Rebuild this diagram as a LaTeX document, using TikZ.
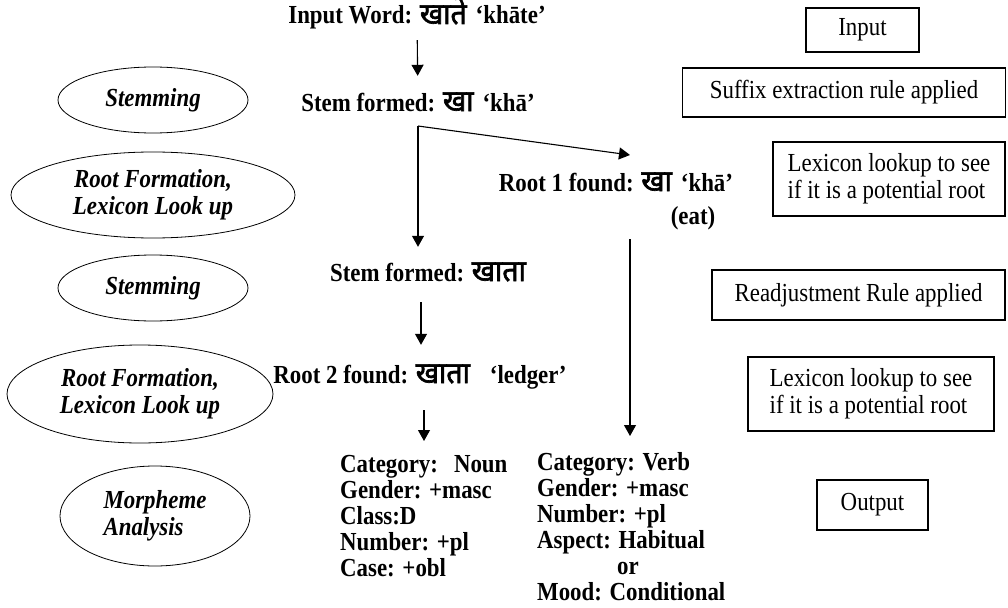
\documentclass[tikz,border=0pt]{standalone}
\usepackage{fontspec}
\setmainfont[FakeStretch=0.88]{Liberation Serif}
\newfontfamily\deva[Script=Devanagari, FakeBold=2.2, FakeStretch=0.95, Scale=1.15]{Noto Sans}
\usetikzlibrary{shapes.geometric}
\usetikzlibrary{arrows.meta}
\newcommand{\hin}[1]{{\deva #1}}

\begin{document}
\begin{tikzpicture} [
          x=1pt, y=-1pt,
          phase/.style = {ellipse, draw, line width=0.8pt, inner sep=0pt,
            font=\fontsize{26}{27}\selectfont\bfseries\itshape},
          note/.style = {draw, line width=1.5pt, inner sep=0pt,
            font=\fontsize{26}{27}\selectfont},
          word/.style = {inner sep=0pt, text height=17pt, text depth=5pt,
            font=\fontsize{26}{27}\selectfont\bfseries},
          feats/.style = {inner sep=0pt, anchor=north west, align=left,
            font=\fontsize{26}{26}\selectfont\bfseries},
          arr/.style = {-{Triangle[length=11pt,width=12pt]}, line width=1.1pt}
          ]
          \useasboundingbox (0,0) rectangle (1008,607);

          % phases on the left
          \node[phase, minimum width=190, minimum height=66] (stemI) at (153,100) {Stemming};
          \node[phase, minimum width=284, minimum height=86, align=center] (rootI) at (153,195) {Root Formation,\\Lexicon Look up};
          \node[phase, minimum width=190, minimum height=66] (stemII) at (153,288) {Stemming};
          \node[phase, minimum width=266, minimum height=98, align=center] (rootII) at (140,394) {Root Formation,\\Lexicon Look up};
          \node[phase, minimum width=190, minimum height=100, align=left] (morph) at (155,516) {Morpheme\\Analysis};

          % the word
          \node[word] (input) at (417,18) {Input Word: \hin{खाते}\hspace{9pt}‘khāte’};
          \node[word] (stemA) at (418,105) {Stem formed: \hin{खा}\hspace{9pt}‘khā’};
          \node[word] (rootA) at (616,185) {Root 1 found: \hin{खा}\hspace{9pt}‘khā’};
          \node[word] (eat) at (693,218) {(eat)};
          \node[word] (stemB) at (428,275) {Stem formed: \hin{खाता}};
          \node[word] (rootB) at (420,377) {Root 2 found: \hin{खाता}\hspace{20pt}‘ledger’};
          \node[feats] (noun) at (340,455) {Category:\hspace{16pt}Noun\\Gender: +masc\\Class:D\\Number: +pl\\Case: +obl};
          \node[feats] (verb) at (537,452) {Category: Verb\\Gender: +masc\\Number: +pl\\Aspect: Habitual\\\hspace*{80pt}or\\Mood: Conditional};

          % notes on the right
          \node[note, minimum width=113, minimum height=44] (inbox) at (862.5,30) {Input};
          \node[note, minimum width=323, minimum height=49] (suffix) at (844,92.5) {Suffix extraction rule applied};
          \node[note, minimum width=232, minimum height=74, align=left] (lookI) at (889,179) {Lexicon lookup to see\\if it is a potential root};
          \node[note, minimum width=293, minimum height=50] (readj) at (858.5,295) {Readjustment Rule applied};
          \node[note, minimum width=246, minimum height=74, align=left] (lookII) at (871,394) {Lexicon lookup to see\\if it is a potential root};
          \node[note, minimum width=111, minimum height=50] (outbox) at (872.5,505) {Output};

          \coordinate (fork) at (418,126);
          \coordinate (rtip) at (630,155);

          \draw[arr, shorten <=11pt, shorten >=18pt] (input) -- (stemA);
          \draw[arr] (fork) -- (rtip);
          \draw[arr, shorten >=17pt] (fork) -- (fork |- stemB.north);
          \draw[arr, shorten <=16pt, shorten >=21pt] ([xshift=3pt]stemB.south -| fork) -- ([xshift=3pt]fork |- rootB.north);
          \draw[arr, shorten <=22pt, shorten >=14pt] ([xshift=4pt]rootB.south) -- ([xshift=4pt]rootB.south |- noun.north);
          \draw[arr, shorten <=10pt, shorten >=16pt] (eat.south -| rtip) -- (rtip |- verb.north);
        \end{tikzpicture}
\end{document}
